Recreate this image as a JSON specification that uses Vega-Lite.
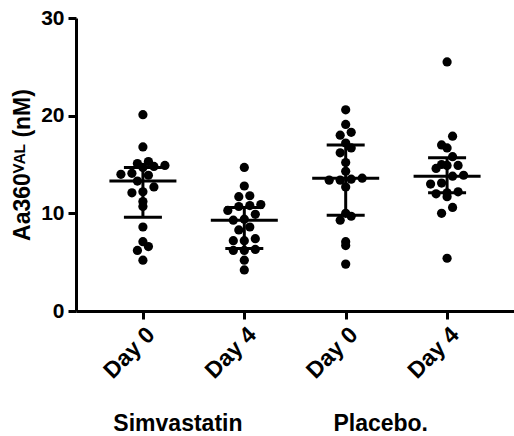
{
  "$schema": "https://vega.github.io/schema/vega-lite/v6.json",
  "width": 438,
  "height": 293,
  "autosize": {"type": "none"},
  "padding": {"left": 76, "top": 18, "right": 0, "bottom": 125},
  "config": {
    "view": {"stroke": null},
    "font": "Liberation Sans"
  },
  "datasets": {
    "points": [
      {"cond": "Simvastatin|Day 0", "value": 20.1}, {"cond": "Simvastatin|Day 0", "value": 16.8}, {"cond": "Simvastatin|Day 0", "value": 15.3},
      {"cond": "Simvastatin|Day 0", "value": 14.8}, {"cond": "Simvastatin|Day 0", "value": 14.7}, {"cond": "Simvastatin|Day 0", "value": 15.1},
      {"cond": "Simvastatin|Day 0", "value": 14.9}, {"cond": "Simvastatin|Day 0", "value": 14.0}, {"cond": "Simvastatin|Day 0", "value": 13.9},
      {"cond": "Simvastatin|Day 0", "value": 14.1}, {"cond": "Simvastatin|Day 0", "value": 13.3}, {"cond": "Simvastatin|Day 0", "value": 12.7},
      {"cond": "Simvastatin|Day 0", "value": 12.1}, {"cond": "Simvastatin|Day 0", "value": 12.2}, {"cond": "Simvastatin|Day 0", "value": 10.7},
      {"cond": "Simvastatin|Day 0", "value": 11.2}, {"cond": "Simvastatin|Day 0", "value": 8.6}, {"cond": "Simvastatin|Day 0", "value": 6.6},
      {"cond": "Simvastatin|Day 0", "value": 7.1}, {"cond": "Simvastatin|Day 0", "value": 6.2}, {"cond": "Simvastatin|Day 0", "value": 5.2},
      {"cond": "Simvastatin|Day 4", "value": 14.7}, {"cond": "Simvastatin|Day 4", "value": 12.8}, {"cond": "Simvastatin|Day 4", "value": 11.8},
      {"cond": "Simvastatin|Day 4", "value": 11.7}, {"cond": "Simvastatin|Day 4", "value": 10.9}, {"cond": "Simvastatin|Day 4", "value": 10.7},
      {"cond": "Simvastatin|Day 4", "value": 10.8}, {"cond": "Simvastatin|Day 4", "value": 10.3}, {"cond": "Simvastatin|Day 4", "value": 9.9},
      {"cond": "Simvastatin|Day 4", "value": 9.3}, {"cond": "Simvastatin|Day 4", "value": 9.4}, {"cond": "Simvastatin|Day 4", "value": 8.3},
      {"cond": "Simvastatin|Day 4", "value": 8.6}, {"cond": "Simvastatin|Day 4", "value": 7.2}, {"cond": "Simvastatin|Day 4", "value": 7.4},
      {"cond": "Simvastatin|Day 4", "value": 7.2}, {"cond": "Simvastatin|Day 4", "value": 6.2}, {"cond": "Simvastatin|Day 4", "value": 6.2},
      {"cond": "Simvastatin|Day 4", "value": 6.3}, {"cond": "Simvastatin|Day 4", "value": 5.2}, {"cond": "Simvastatin|Day 4", "value": 4.2},
      {"cond": "Placebo.|Day 0", "value": 20.6}, {"cond": "Placebo.|Day 0", "value": 19.1}, {"cond": "Placebo.|Day 0", "value": 18.0},
      {"cond": "Placebo.|Day 0", "value": 18.3}, {"cond": "Placebo.|Day 0", "value": 16.7}, {"cond": "Placebo.|Day 0", "value": 17.2},
      {"cond": "Placebo.|Day 0", "value": 16.2}, {"cond": "Placebo.|Day 0", "value": 15.2}, {"cond": "Placebo.|Day 0", "value": 14.3},
      {"cond": "Placebo.|Day 0", "value": 13.5}, {"cond": "Placebo.|Day 0", "value": 13.4}, {"cond": "Placebo.|Day 0", "value": 13.6},
      {"cond": "Placebo.|Day 0", "value": 13.4}, {"cond": "Placebo.|Day 0", "value": 12.7}, {"cond": "Placebo.|Day 0", "value": 10.0},
      {"cond": "Placebo.|Day 0", "value": 9.3}, {"cond": "Placebo.|Day 0", "value": 9.7}, {"cond": "Placebo.|Day 0", "value": 7.1},
      {"cond": "Placebo.|Day 0", "value": 6.7}, {"cond": "Placebo.|Day 0", "value": 4.8},
      {"cond": "Placebo.|Day 4", "value": 25.5}, {"cond": "Placebo.|Day 4", "value": 17.9}, {"cond": "Placebo.|Day 4", "value": 16.7},
      {"cond": "Placebo.|Day 4", "value": 17.0}, {"cond": "Placebo.|Day 4", "value": 15.8}, {"cond": "Placebo.|Day 4", "value": 15.0},
      {"cond": "Placebo.|Day 4", "value": 14.9}, {"cond": "Placebo.|Day 4", "value": 14.6}, {"cond": "Placebo.|Day 4", "value": 14.9},
      {"cond": "Placebo.|Day 4", "value": 13.9}, {"cond": "Placebo.|Day 4", "value": 13.8}, {"cond": "Placebo.|Day 4", "value": 13.1},
      {"cond": "Placebo.|Day 4", "value": 13.0}, {"cond": "Placebo.|Day 4", "value": 12.2}, {"cond": "Placebo.|Day 4", "value": 12.0},
      {"cond": "Placebo.|Day 4", "value": 12.1}, {"cond": "Placebo.|Day 4", "value": 11.7}, {"cond": "Placebo.|Day 4", "value": 10.6},
      {"cond": "Placebo.|Day 4", "value": 10.0}, {"cond": "Placebo.|Day 4", "value": 5.4}
    ],
    "stats": [
      {"cond": "Simvastatin|Day 0", "median": 13.3, "q1": 9.6, "q3": 14.7},
      {"cond": "Simvastatin|Day 4", "median": 9.3, "q1": 6.4, "q3": 10.6},
      {"cond": "Placebo.|Day 0", "median": 13.6, "q1": 9.8, "q3": 17.0},
      {"cond": "Placebo.|Day 4", "median": 13.8, "q1": 12.1, "q3": 15.7}
    ],
    "groups": [
      {"cond": "Simvastatin|Day 0", "label": "Simvastatin"},
      {"cond": "Placebo.|Day 0", "label": "Placebo."}
    ]
  },
  "layer": [
    {
      "data": {"name": "points"},
      "transform": [
        {"bin": {"step": 1, "anchor": 0}, "field": "value", "as": "vb"},
        {"joinaggregate": [{"op": "count", "as": "n"}], "groupby": ["cond", "vb"]},
        {"window": [{"op": "row_number", "as": "r"}], "groupby": ["cond", "vb"], "sort": [{"field": "value"}]},
        {"calculate": "datum.r - (datum.n + 1) / 2", "as": "k"}
      ],
      "mark": {"type": "circle", "size": 85, "opacity": 1, "color": "black"},
      "encoding": {
        "x": {
          "field": "cond", "type": "nominal",
          "scale": {"type": "point", "padding": 0.66, "domain": ["Simvastatin|Day 0", "Simvastatin|Day 4", "Placebo.|Day 0", "Placebo.|Day 4"]},
          "axis": {"title": null, "grid": false, "labelExpr": "split(datum.label, '|')[1]", "labelAngle": -45, "labelFontSize": 23, "labelFontWeight": "bold", "labelColor": "black", "labelPadding": 4, "domainColor": "black", "domainWidth": 3, "domainOpacity": 1, "tickColor": "black", "tickWidth": 3, "tickSize": 8, "tickOpacity": 1}
        },
        "xOffset": {"field": "k", "type": "quantitative", "scale": {"domain": [-3, 3], "range": [-33, 33]}},
        "y": {
          "field": "value", "type": "quantitative",
          "scale": {"domain": [0, 30], "nice": false},
          "axis": {"values": [0, 10, 20, 30], "grid": false, "labelFontSize": 21, "labelFontWeight": "bold", "labelColor": "black", "labelPadding": 4, "domainColor": "black", "domainWidth": 3, "domainOpacity": 1, "tickColor": "black", "tickWidth": 3, "tickSize": 8, "tickOpacity": 1, "title": "Aa360ⱽᴬᴸ (nM)", "titleFontSize": 23, "titleFontWeight": "bold", "titleColor": "black", "titlePadding": 6}
        }
      }
    },
    {
      "data": {"name": "stats"},
      "mark": {"type": "rule", "strokeWidth": 3, "color": "black", "opacity": 1},
      "encoding": {
        "x": {"field": "cond", "type": "nominal"},
        "y": {"field": "q1", "type": "quantitative"},
        "y2": {"field": "q3"}
      }
    },
    {
      "data": {"name": "stats"},
      "mark": {"type": "tick", "size": 67, "thickness": 3, "color": "black", "opacity": 1, "orient": "horizontal"},
      "encoding": {
        "x": {"field": "cond", "type": "nominal"},
        "y": {"field": "median", "type": "quantitative"}
      }
    },
    {
      "data": {"name": "stats"},
      "transform": [{"fold": ["q1", "q3"], "as": ["stat", "v"]}],
      "mark": {"type": "tick", "size": 38, "thickness": 3, "color": "black", "opacity": 1, "orient": "horizontal"},
      "encoding": {
        "x": {"field": "cond", "type": "nominal"},
        "y": {"field": "v", "type": "quantitative"}
      }
    },
    {
      "data": {"name": "groups"},
      "mark": {"type": "text", "fontSize": 23, "fontWeight": "bold", "dx": 35, "align": "center", "baseline": "middle", "color": "black"},
      "encoding": {
        "x": {"field": "cond", "type": "nominal"},
        "y": {"datum": -11.6},
        "text": {"field": "label"}
      }
    }
  ]
}
